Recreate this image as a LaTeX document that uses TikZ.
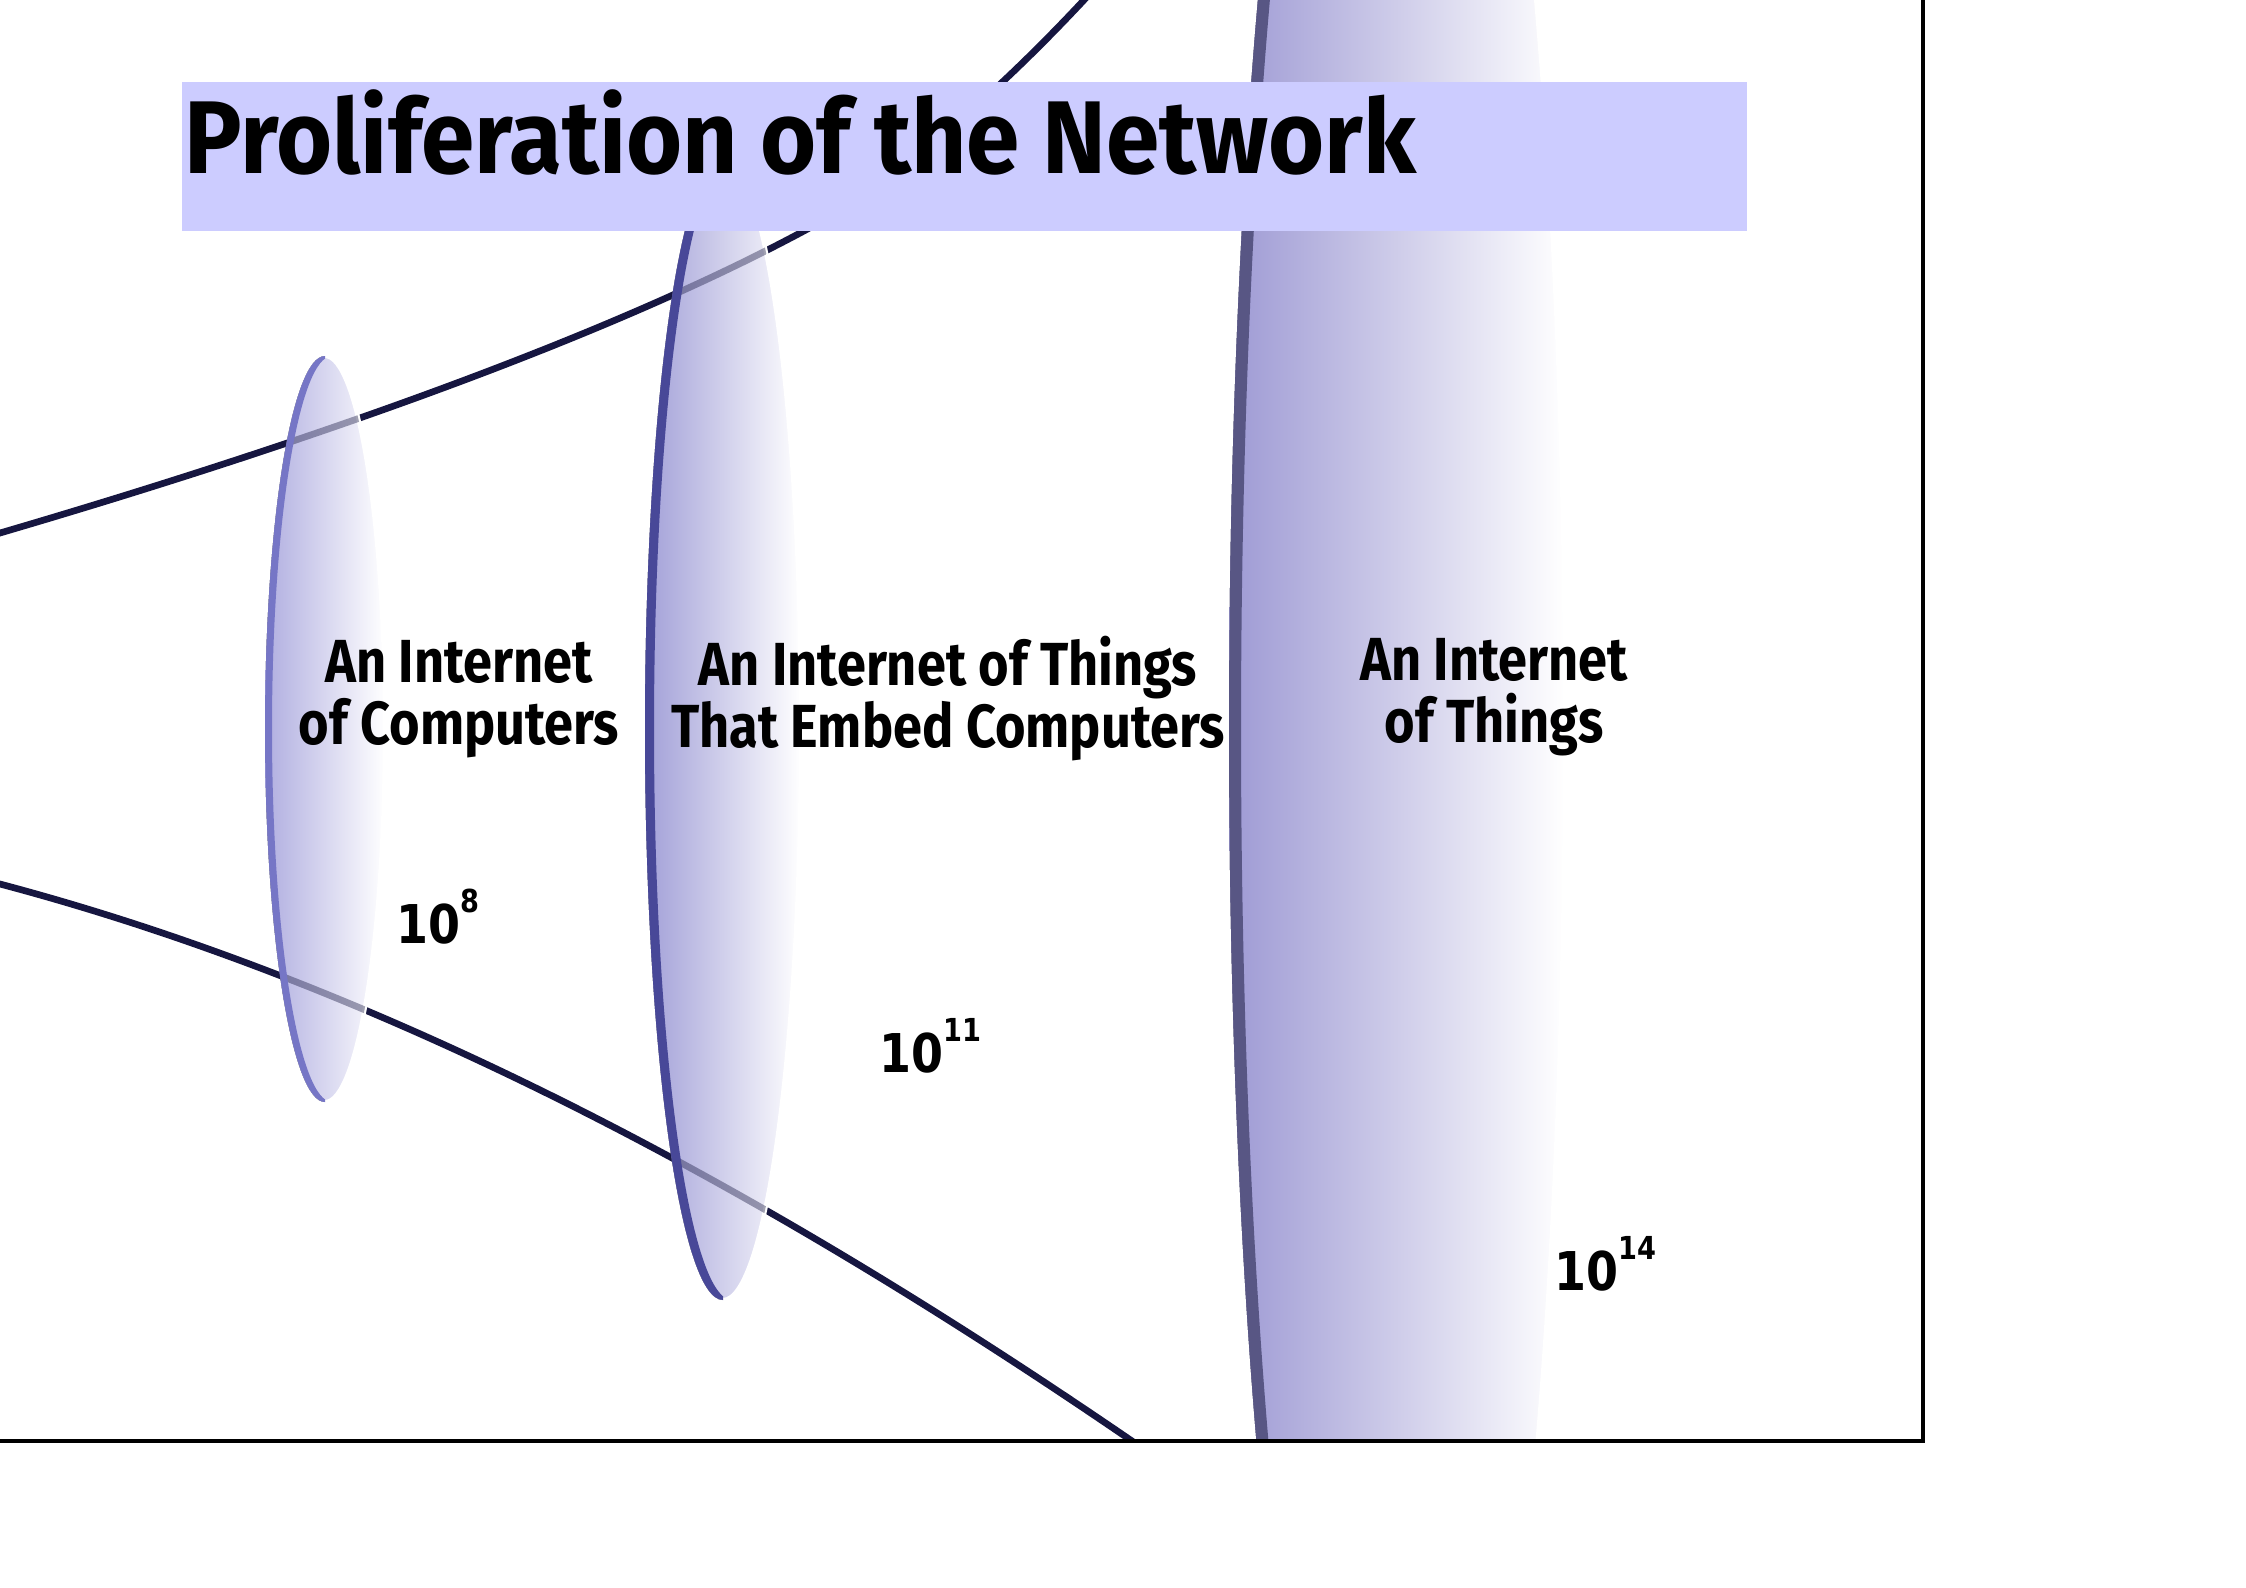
\documentclass[tikz,border=0pt]{standalone}
\usepackage{fontspec}
\usepackage{tikz}
\newfontfamily\LblFont[FakeStretch=0.86]{Fira Sans}
\newfontfamily\HeadFont[FakeStretch=0.93]{Fira Sans}
\newfontfamily\NumFont[FakeStretch=0.86]{DejaVu Sans}
\definecolor{band}{RGB}{204,204,255}
\definecolor{lavA}{RGB}{176,174,224}
\definecolor{lavB}{RGB}{162,160,216}
\definecolor{lavC}{RGB}{158,154,212}
\definecolor{navy}{RGB}{22,22,64}
\definecolor{rimA}{RGB}{118,118,198}
\definecolor{rimB}{RGB}{72,72,152}
\definecolor{rimC}{RGB}{88,86,132}
\newcommand{\MyPow}[1]{10\raisebox{8.6pt}{\fontsize{9}{9}\selectfont #1}}
% cx, cy, rx, ry, rim width, rim colour, fill colour
\newcommand{\MyDisk}[7]{%
  \fill[left color=#7, right color=white] (#1,#2) ellipse [x radius=#3, y radius=#4];
  \begin{scope}
    \clip (#1,#2-#4-20) rectangle (#1+#3+20,#2+#4+20);
    \draw[white, line width=1.2pt] (#1,#2) ellipse [x radius=#3, y radius=#4];
  \end{scope}
  \begin{scope}
    \clip (#1,#2) ellipse [x radius=#3, y radius=#4];
    \draw[wire, draw opacity=0.4, use path=\UpperWire];
    \draw[wire, draw opacity=0.4, use path=\LowerWire];
    \clip (#1-#3-20,#2-#4-20) rectangle (#1,#2+#4+20);
    \fill[#6, even odd rule] (#1,#2) ellipse [x radius=#3, y radius=#4]
      (#1+#5,#2) ellipse [x radius=#3, y radius=#4];
  \end{scope}}

\begin{document}
\begin{tikzpicture}[x=0.01cm, y=-0.01cm,
  lbl/.style={font=\LblFont\bfseries\fontsize{17.3}{17.6}\selectfont, align=center, inner sep=0pt},
  cnt/.style={font=\NumFont\bfseries\fontsize{15.2}{16}\selectfont, anchor=base west, inner sep=0pt},
  wire/.style={draw=navy, line width=1.9pt},
  frame/.style={draw=black, line width=1.15pt}]

\useasboundingbox (0,0) rectangle (2246,1587);

\path[save path=\UpperWire] (-30,542) -- (0,533) .. controls (300,445) and (600,340) .. (802,232)
  .. controls (900,180) and (1000,90) .. (1084,0) -- (1110,-28);
\path[save path=\LowerWire] (-30,876) -- (0,884) .. controls (400,990) and (780,1200) .. (1132,1441)
  -- (1160,1460);

\begin{scope}
\clip (0,0) rectangle (1923,1441);

\draw[wire, use path=\UpperWire];
\draw[wire, use path=\LowerWire];

\MyDisk{325}{729}{60}{373}{7}{rimA}{lavA}
\MyDisk{723}{729}{78}{571}{9}{rimB}{lavB}
\MyDisk{1397}{729}{168}{1300}{12}{rimC}{lavC}
\end{scope}

\fill[band] (182,82) rectangle (1747,231);
\node[anchor=base west, inner sep=0pt, font=\HeadFont\bfseries\fontsize{29.4}{32}\selectfont] (title) at (184,173) {Proliferation of the Network};

\node[lbl] (comp) at (459,699) {An Internet\\of Computers};
\node[lbl] (embed) at (948,699) {An Internet of Things\\That Embed Computers};
\node[lbl] (things) at (1494,697) {An Internet\\of Things};

\node[cnt] (n8) at (396,943) {\MyPow{8}};
\node[cnt] (n11) at (879,1072) {\MyPow{11}};
\node[cnt] (n14) at (1554,1290) {\MyPow{14}};

\draw[frame] (0,1441) -- (1923,1441) -- (1923,0);

\end{tikzpicture}
\end{document}
